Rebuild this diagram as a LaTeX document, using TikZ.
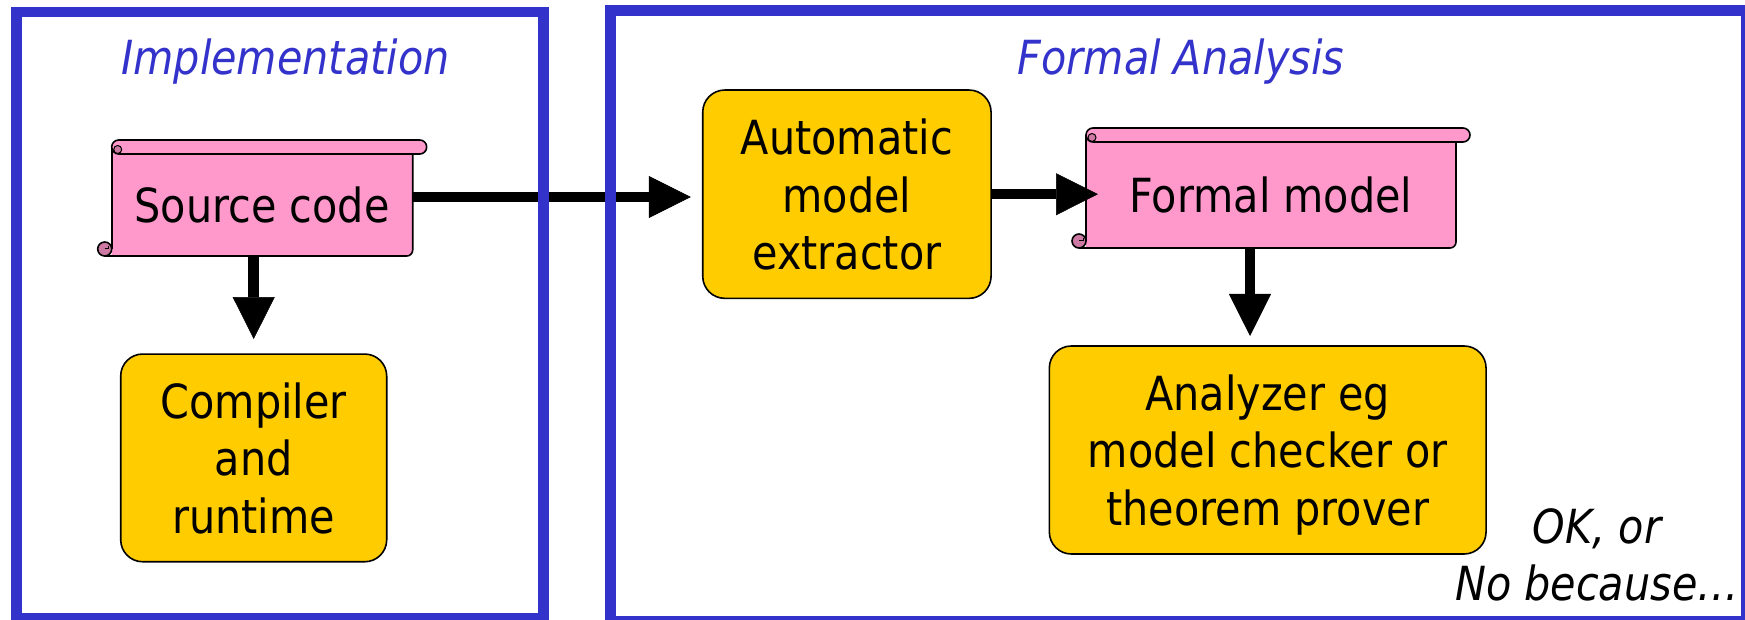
\documentclass[tikz,border=0pt]{standalone}
\usepackage{fontspec}
\setmainfont{DejaVu Sans}[FakeStretch=0.88]
\usetikzlibrary{arrows.meta}
\definecolor{frameblue}{HTML}{3333CC}
\definecolor{boxyellow}{HTML}{FFCC00}
\definecolor{scrollpink}{HTML}{FF99CC}
\definecolor{curlpink}{HTML}{CC7AA3}
\tikzset{
  bigfont/.style={font=\fontsize{47}{57.5}\selectfont},
  framebox/.style={draw=frameblue, line width=10.7pt, inner sep=0pt, outer sep=0pt},
  titletext/.style={font=\fontsize{47}{57.5}\selectfont\itshape, text=frameblue, anchor=base},
  ybox/.style={draw=black, fill=boxyellow, line width=1.6pt, rounded corners=22pt, inner sep=0pt, outer sep=0pt, align=center, bigfont, text depth=0pt},
  scrollnode/.style={inner sep=0pt, outer sep=0pt, bigfont},
  scrollline/.style={line width=1.6pt, line join=round},
  arr/.style={line width=10.5pt, -{Triangle[length=42pt,width=42pt,line width=0.5pt]}},
}
% scroll shape: #1 = left of body, #2 = top of roll, #3 = right of body, #4 = bottom
\newcommand\scrollshape[4]{%
  \fill[scrollpink] (#1,{#2+7}) -- (#1,#4) [rounded corners=6pt] -- (#3,#4) -- (#3,{#2+7}) -- cycle;
  \draw[scrollline] (#1,{#2+7}) -- (#1,{#4-7});
  \draw[scrollline] ({#1-7},#4) [rounded corners=6pt] -- (#3,#4) -- (#3,{#2+7});
  \filldraw[scrollline, fill=curlpink] ({#1-7},{#4-7}) circle[radius=7pt];
  \draw[line width=1pt] ({#1-7},{#4-7}) -- ({#1-3},{#4-7}) -- ({#1-3},{#4-10});
  \filldraw[scrollline, fill=scrollpink, rounded corners=7pt] (#1,#2) rectangle ({#3+14},{#2+14});
  \filldraw[line width=1pt, fill=curlpink] ({#1+6},{#2+9.5}) circle[radius=4pt];
}
\begin{document}
\begin{tikzpicture}[x=1pt, y=-1pt]
\useasboundingbox (0,0) rectangle (1745,620);
% scrolls
\scrollshape{111.7}{140}{412.7}{256}
\scrollshape{1086}{128}{1456}{248}
\node[scrollnode, minimum width=301pt, minimum height=102pt] (src) at (262.2,205) {Source code};
\node[scrollnode, minimum width=370pt, minimum height=106pt] (fm) at (1271,195) {Formal model};
% yellow boxes
\node[ybox, minimum width=266pt, minimum height=207.7pt] (comp) at (253.7,457.9) {Compiler\\and\\runtime};
\node[ybox, minimum width=288.3pt, minimum height=208.3pt] (ext) at (846.9,194.2) {Automatic\\model\\extractor};
\node[ybox, minimum width=436.7pt, minimum height=208pt] (an) at (1267.7,450) {Analyzer eg\\model checker or\\theorem prover};
% arrows
\coordinate (a1) at ([yshift=8pt]src.east);
\draw[arr, shorten >=12pt] (a1) -- (a1 -| ext.west);
\draw[arr, shorten >=-12pt] (ext.east) -- (ext.east -| fm.west);
\draw[arr, shorten >=15pt] (src.south -| comp.north) -- (comp.north);
\coordinate (a4) at ([xshift=-21pt]fm.south);
\draw[arr, shorten >=10pt] (a4) -- (a4 |- an.north);
% frames
\node[framebox, minimum width=527.4pt, minimum height=606.7pt] (impl) at (280,315.35) {};
\node[framebox, minimum width=1135.8pt, minimum height=610.5pt] (formal) at (1178.6,315.75) {};
\node[titletext] (implt) at (285.5,75) {Implementation};
\node[titletext] (formalt) at (1181,75) {Formal Analysis};
\node[font=\fontsize{47}{57}\selectfont\itshape, align=center, anchor=base, inner sep=0pt] (ok) at (1597,600) {OK, or\\No because…};
\end{tikzpicture}
\end{document}
